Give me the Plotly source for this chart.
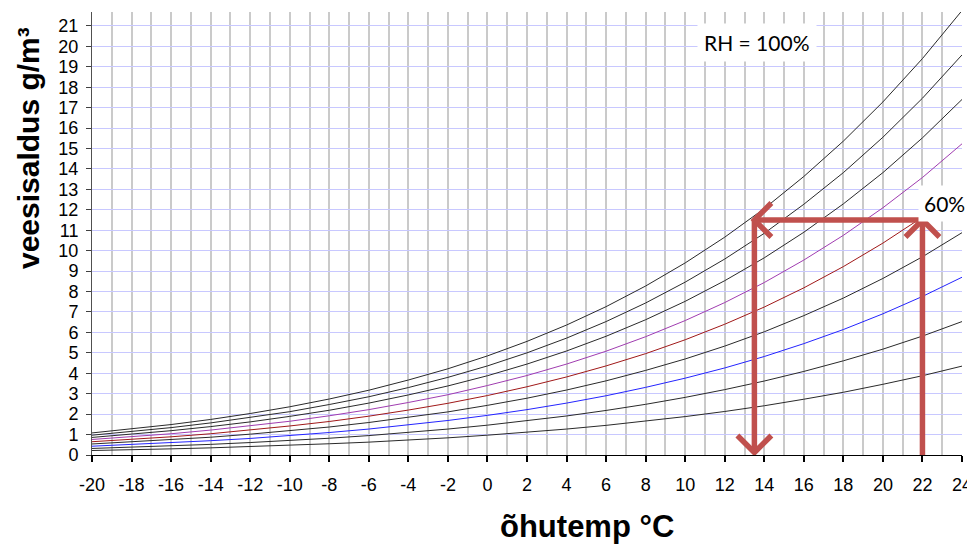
import plotly.graph_objects as go

# Air temperature (°C)
temps = [-20, -18, -16, -14, -12, -10, -8, -6, -4, -2, 0, 2, 4, 6, 8, 10, 12, 14, 16, 18, 20, 22, 24]
x_tick_labels = ["-20", "-18", "-16", "-14", "-12", "-10", "-8", "-6", "-4", "-2", "0", "2",
                 "4", "6", "8", "10", "12", "14", "16", "18", "20", "22", "24"]

# Water vapour content (g/m³) for each relative humidity curve
rh100 = [1.08, 1.27, 1.49, 1.74, 2.03, 2.36, 2.74, 3.17, 3.67, 4.22, 4.85, 5.56, 6.36, 7.26, 8.27, 9.40, 10.66, 12.06, 13.63, 15.36, 17.28, 19.40, 21.75]
rh90 = [0.97, 1.14, 1.34, 1.57, 1.83, 2.12, 2.47, 2.85, 3.30, 3.80, 4.36, 5.00, 5.72, 6.53, 7.44, 8.46, 9.59, 10.85, 12.27, 13.82, 15.55, 17.46, 19.58]
rh80 = [0.86, 1.02, 1.19, 1.39, 1.62, 1.89, 2.19, 2.54, 2.94, 3.38, 3.88, 4.45, 5.09, 5.81, 6.62, 7.52, 8.53, 9.65, 10.90, 12.29, 13.82, 15.52, 17.40]
rh70 = [0.76, 0.89, 1.04, 1.22, 1.42, 1.65, 1.92, 2.22, 2.57, 2.95, 3.40, 3.89, 4.45, 5.08, 5.79, 6.58, 7.46, 8.44, 9.54, 10.75, 12.10, 13.58, 15.23]
rh60 = [0.65, 0.76, 0.89, 1.04, 1.22, 1.42, 1.64, 1.90, 2.20, 2.53, 2.91, 3.34, 3.82, 4.36, 4.96, 5.64, 6.40, 7.24, 8.18, 9.22, 10.37, 11.64, 13.05]
rh50 = [0.54, 0.64, 0.75, 0.87, 1.02, 1.18, 1.37, 1.59, 1.84, 2.11, 2.43, 2.78, 3.18, 3.63, 4.14, 4.70, 5.33, 6.03, 6.82, 7.68, 8.64, 9.70, 10.88]
rh40 = [0.43, 0.51, 0.60, 0.70, 0.81, 0.94, 1.10, 1.27, 1.47, 1.69, 1.94, 2.22, 2.54, 2.90, 3.31, 3.76, 4.26, 4.82, 5.45, 6.14, 6.91, 7.76, 8.70]
rh30 = [0.32, 0.38, 0.45, 0.52, 0.61, 0.71, 0.82, 0.95, 1.10, 1.27, 1.46, 1.67, 1.91, 2.18, 2.48, 2.82, 3.20, 3.62, 4.09, 4.61, 5.18, 5.82, 6.53]
rh20 = [0.22, 0.25, 0.30, 0.35, 0.41, 0.47, 0.55, 0.63, 0.73, 0.84, 0.97, 1.11, 1.27, 1.45, 1.65, 1.88, 2.13, 2.41, 2.73, 3.07, 3.46, 3.88, 4.35]

curve_names = ["100%", "90%", "80%", "70%", "60%", "50%", "40%", "30%", "20%"]
curve_values = [rh100, rh90, rh80, rh70, rh60, rh50, rh40, rh30, rh20]
curve_colors = ["#2a2a2a", "#2a2a2a", "#2a2a2a", "#a03cb0", "#a01818",
                "#2a2a2a", "#2424ff", "#2a2a2a", "#2a2a2a"]

# Dew-point example: 60 % RH at 22 °C cooled down to saturation
example_temp = 22
example_vapour = 11.5
example_dewpoint = 13.5
arrow_bottom = 0.12

x_range = [-20, 24]
y_range = [0, 21.68]

W, H = 967, 545
M_L, M_R, M_T, M_B = 92, 5, 12, 90
plot_w = W - M_L - M_R
plot_h = H - M_T - M_B
px_x = plot_w / (x_range[1] - x_range[0])
px_y = plot_h / (y_range[1] - y_range[0])

fig = go.Figure()
for name, vals, col in zip(curve_names, curve_values, curve_colors):
    fig.add_trace(go.Scatter(x=temps, y=vals, mode="lines", name=name,
                             line=dict(color=col, width=1), showlegend=False,
                             hoverinfo="skip"))

arrow_col = "#c0504d"
arrow_w = 5.5
head = 17  # chevron arm projection in pixels
hx, hy = head / px_x, head / px_y


def seg(x0, y0, x1, y1):
    return dict(type="line", xref="x", yref="y", x0=x0, y0=y0, x1=x1, y1=y1,
                line=dict(color=arrow_col, width=arrow_w), layer="above")


def chevron(pts):
    d = "M {} {} L {} {} L {} {}".format(*[c for p in pts for c in p])
    return dict(type="path", xref="x", yref="y", path=d,
                line=dict(color=arrow_col, width=arrow_w), layer="above")


shapes = [
    seg(example_temp, 0, example_temp, example_vapour),
    seg(example_temp, example_vapour, example_dewpoint, example_vapour),
    seg(example_dewpoint, example_vapour, example_dewpoint, arrow_bottom),
    chevron([(example_temp - hx, example_vapour - hy), (example_temp, example_vapour),
             (example_temp + hx, example_vapour - hy)]),
    chevron([(example_dewpoint + hx, example_vapour + hy), (example_dewpoint, example_vapour),
             (example_dewpoint + hx, example_vapour - hy)]),
    chevron([(example_dewpoint - hx, arrow_bottom + hy), (example_dewpoint, arrow_bottom),
             (example_dewpoint + hx, arrow_bottom + hy)]),
]


def px_to_paper_x(px):
    return (px - M_L) / plot_w


def px_to_paper_y(py):
    return (H - M_B - py) / plot_h


annotations = [
    dict(text="<b>veesisaldus g/m³</b>", textangle=-90, xref="paper", yref="paper",
         x=px_to_paper_x(28), y=px_to_paper_y(148), xanchor="center", yanchor="middle",
         showarrow=False, font=dict(family="Liberation Sans", size=30, color="black")),
    dict(text="<b>õhutemp °C</b>", xref="paper", yref="paper",
         x=px_to_paper_x(587), y=px_to_paper_y(526), xanchor="center", yanchor="middle",
         showarrow=False, font=dict(family="Liberation Sans", size=31, color="black")),
    dict(text="RH = 100%", xref="paper", yref="paper",
         x=px_to_paper_x(757), y=px_to_paper_y(43), xanchor="center", yanchor="middle",
         showarrow=False, bgcolor="white", borderpad=6,
         font=dict(family="Lato", size=21, color="black")),
    dict(text="60%", xref="paper", yref="paper",
         x=px_to_paper_x(944), y=px_to_paper_y(203), xanchor="center", yanchor="middle",
         showarrow=False, bgcolor="white", borderpad=5,
         font=dict(family="Lato", size=21, color="black")),
]

fig.update_layout(
    width=W, height=H,
    margin=dict(l=M_L, r=M_R, t=M_T, b=M_B, pad=0, autoexpand=False),
    paper_bgcolor="white", plot_bgcolor="white",
    shapes=shapes, annotations=annotations,
    xaxis=dict(range=x_range, tickmode="array", tickvals=temps, ticktext=x_tick_labels,
               automargin=False,
               showgrid=True, gridcolor="#cacaca",
               gridwidth=1.5, zeroline=False, showline=True, linecolor="black", linewidth=1,
               ticks="outside", ticklen=6, tickcolor="black", tickwidth=1.5,
               ticklabelstandoff=7, ticklabeloverflow="allow",
               tickfont=dict(family="Liberation Sans", size=18, color="black"),
               minor=dict(tickmode="linear", tick0=-20, dtick=1, showgrid=True,
                          gridcolor="#cacaca", gridwidth=1.5)),
    yaxis=dict(range=y_range, tick0=0, dtick=1, showgrid=True, gridcolor="#c8c8ff",
               automargin=False,
               gridwidth=1.2, zeroline=False, showline=True, linecolor="#505050", linewidth=1,
               ticks="outside", ticklen=5, tickcolor="#404040", tickwidth=1,
               ticklabelstandoff=4,
               tickfont=dict(family="Liberation Sans", size=18, color="black")),
)

fig.write_html("out.html")
